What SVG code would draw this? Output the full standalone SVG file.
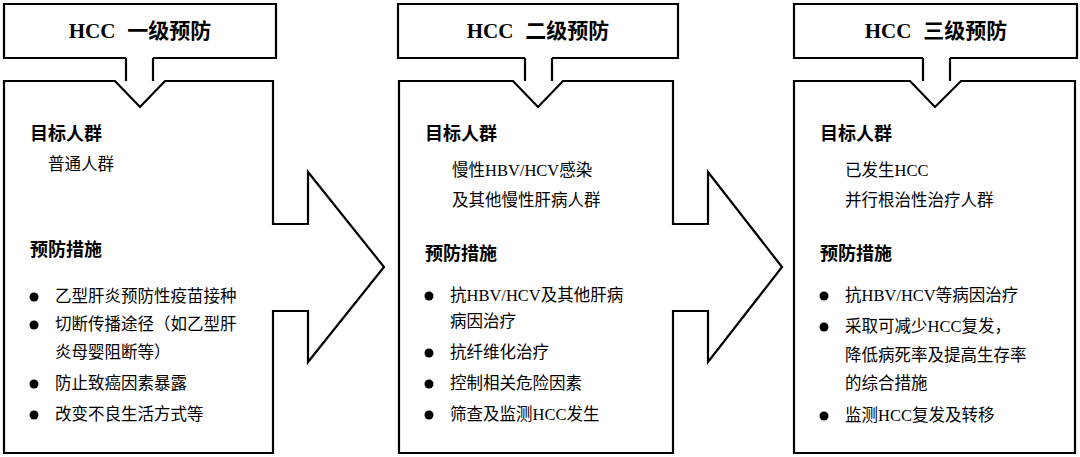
<svg xmlns="http://www.w3.org/2000/svg" width="1080" height="457" viewBox="0 0 1080 457">
<style>
.s{fill:none;stroke:#000;stroke-width:2.2;stroke-linejoin:miter}
.t{font-family:"Liberation Serif","Noto Sans CJK SC",serif;font-size:21px;font-weight:bold;text-anchor:middle}
.h{font-family:"Liberation Serif","Noto Sans CJK SC",sans-serif;font-size:18px;font-weight:bold}
.b{font-family:"Liberation Serif","Noto Sans CJK SC",sans-serif;font-size:16.5px}
</style>
<rect width="1080" height="457" fill="#fff"/>
<g id="p1">
<path class="s" d="M126,58 H4 V4 H276 V58 H153 M126,58 V81 M153,58 V81"/>
<path class="s" d="M4,81 H115 L140,107 L165,81 H273 V224 H308 V172 L384,267 L308,362 V311 H273 V453 H4 Z"/>
<text class="t" x="140" y="38">HCC<tspan dx="12">一级预防</tspan></text>
<text class="h" x="30" y="140">目标人群</text>
<text class="b" x="48" y="170">普通人群</text>
<text class="h" x="30" y="256">预防措施</text>
<g class="b"><circle cx="34" cy="297" r="4.5"/><text x="55" y="302">乙型肝炎预防性疫苗接种</text>
<circle cx="34" cy="325" r="4.5"/><text x="55" y="330">切断传播途径（如乙型肝</text><text x="55" y="358">炎母婴阻断等）</text>
<circle cx="34" cy="384" r="4.5"/><text x="55" y="389">防止致癌因素暴露</text>
<circle cx="34" cy="415" r="4.5"/><text x="55" y="420">改变不良生活方式等</text></g>
</g>
<g id="p2">
<path class="s" d="M525,58 H398 V4 H678 V58 H552 M525,58 V81 M552,58 V81"/>
<path class="s" d="M399,81 H513 L538,107 L563,81 H673 V224 H708 V172 L782,267 L708,362 V311 H673 V453 H399 Z"/>
<text class="t" x="538" y="38">HCC<tspan dx="12">二级预防</tspan></text>
<text class="h" x="425" y="140">目标人群</text>
<text class="b" x="452" y="176">慢性HBV/HCV感染</text>
<text class="b" x="452" y="206">及其他慢性肝病人群</text>
<text class="h" x="425" y="260">预防措施</text>
<g class="b"><circle cx="429" cy="296" r="4.5"/><text x="450" y="301">抗HBV/HCV及其他肝病</text><text x="450" y="327">病因治疗</text>
<circle cx="429" cy="353" r="4.5"/><text x="450" y="358">抗纤维化治疗</text>
<circle cx="429" cy="384" r="4.5"/><text x="450" y="389">控制相关危险因素</text>
<circle cx="429" cy="415" r="4.5"/><text x="450" y="420">筛查及监测HCC发生</text></g>
</g>
<g id="p3">
<path class="s" d="M923,58 H794 V4 H1077 V58 H950 M923,58 V81 M950,58 V81"/>
<path class="s" d="M794,81 H910 L935,107 L961,81 H1075 V453 H794 Z"/>
<text class="t" x="936" y="38">HCC<tspan dx="12">三级预防</tspan></text>
<text class="h" x="820" y="140">目标人群</text>
<text class="b" x="845" y="176">已发生HCC</text>
<text class="b" x="845" y="206">并行根治性治疗人群</text>
<text class="h" x="820" y="260">预防措施</text>
<g class="b"><circle cx="824" cy="296" r="4.5"/><text x="845" y="301">抗HBV/HCV等病因治疗</text>
<circle cx="824" cy="327" r="4.5"/><text x="845" y="332">采取可减少HCC复发，</text><text x="845" y="361">降低病死率及提高生存率</text><text x="845" y="389">的综合措施</text>
<circle cx="824" cy="416" r="4.5"/><text x="845" y="421">监测HCC复发及转移</text></g>
</g>
<g id="connectors"/>
</svg>
